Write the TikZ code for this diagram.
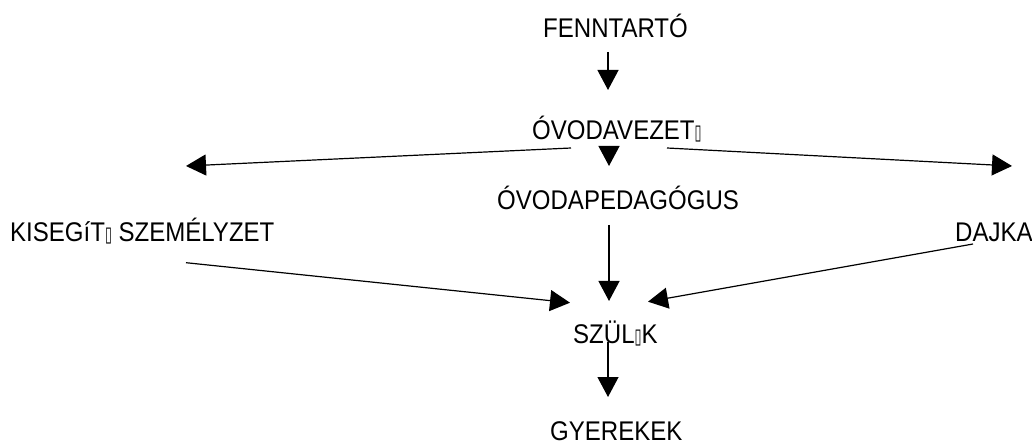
\documentclass[tikz,border=0pt]{standalone}
\usepackage{fontspec}
\setmainfont{Liberation Sans}[FakeStretch=0.89]
\newfontfamily\boxfont{DejaVu Sans}[FakeStretch=0.6]
\usepackage{tikz}
\usetikzlibrary{arrows.meta,calc}
\newcommand{\nogl}{{\boxfont\fontsize{21}{21}\selectfont ▯}}

\begin{document}
\begin{tikzpicture}[
  x=1pt, y=-1pt,
  font=\fontsize{27}{30}\selectfont,
  >={Triangle[length=20pt,width=21pt]},
  lbl/.style={inner sep=0pt, anchor=base west},
  arr/.style={->, line width=1.2pt},
]
\useasboundingbox (0,0) rectangle (1032,443);

% ===== levels =====
\node[lbl] (fenntarto) at (543,38)    {FENNTARTÓ};
\node[lbl] (vezeto)    at (532,140)   {ÓVODAVEZET\nogl};
\node[lbl] (pedagogus) at (497,210)   {ÓVODAPEDAGÓGUS};
\node[lbl] (kisegito)  at (10,241.7)  {KISEGíT\nogl{} SZEMÉLYZET};
\node[lbl] (dajka)     at (955,242)   {DAJKA};
\node[lbl] (szulok)    at (573,343)   {SZÜL\nogl K};
\node[lbl] (gyerekek)  at (550,440)   {GYEREKEK};

% ===== arrows =====
\draw[arr] ($(fenntarto.base west)+(65,14)$) -- ($(vezeto.base west)+(76,-50)$);
\draw[arr] ($(vezeto.base west)+(77,6)$)     -- ($(pedagogus.base west)+(112,-44)$);
\draw[arr] ($(vezeto.base west)+(39,8)$)     -- ($(kisegito.base west)+(176,-75.7)$);
\draw[arr] ($(vezeto.base west)+(135,8)$)    -- ($(dajka.base west)+(57,-76)$);
% towards the parents
\draw[arr] ($(pedagogus.base west)+(112,15)$) -- ($(szulok.base west)+(36,-42)$);
\draw[arr] ($(kisegito.base west)+(176,21)$)  -- ($(szulok.base west)+(-3,-40.3)$);
\draw[arr] ($(dajka.base west)+(18,2)$)       -- ($(szulok.base west)+(75,-41.3)$);
\draw[arr] ($(szulok.base west)+(35,-1)$)     -- ($(gyerekek.base west)+(58,-43)$);

\end{tikzpicture}
\end{document}
